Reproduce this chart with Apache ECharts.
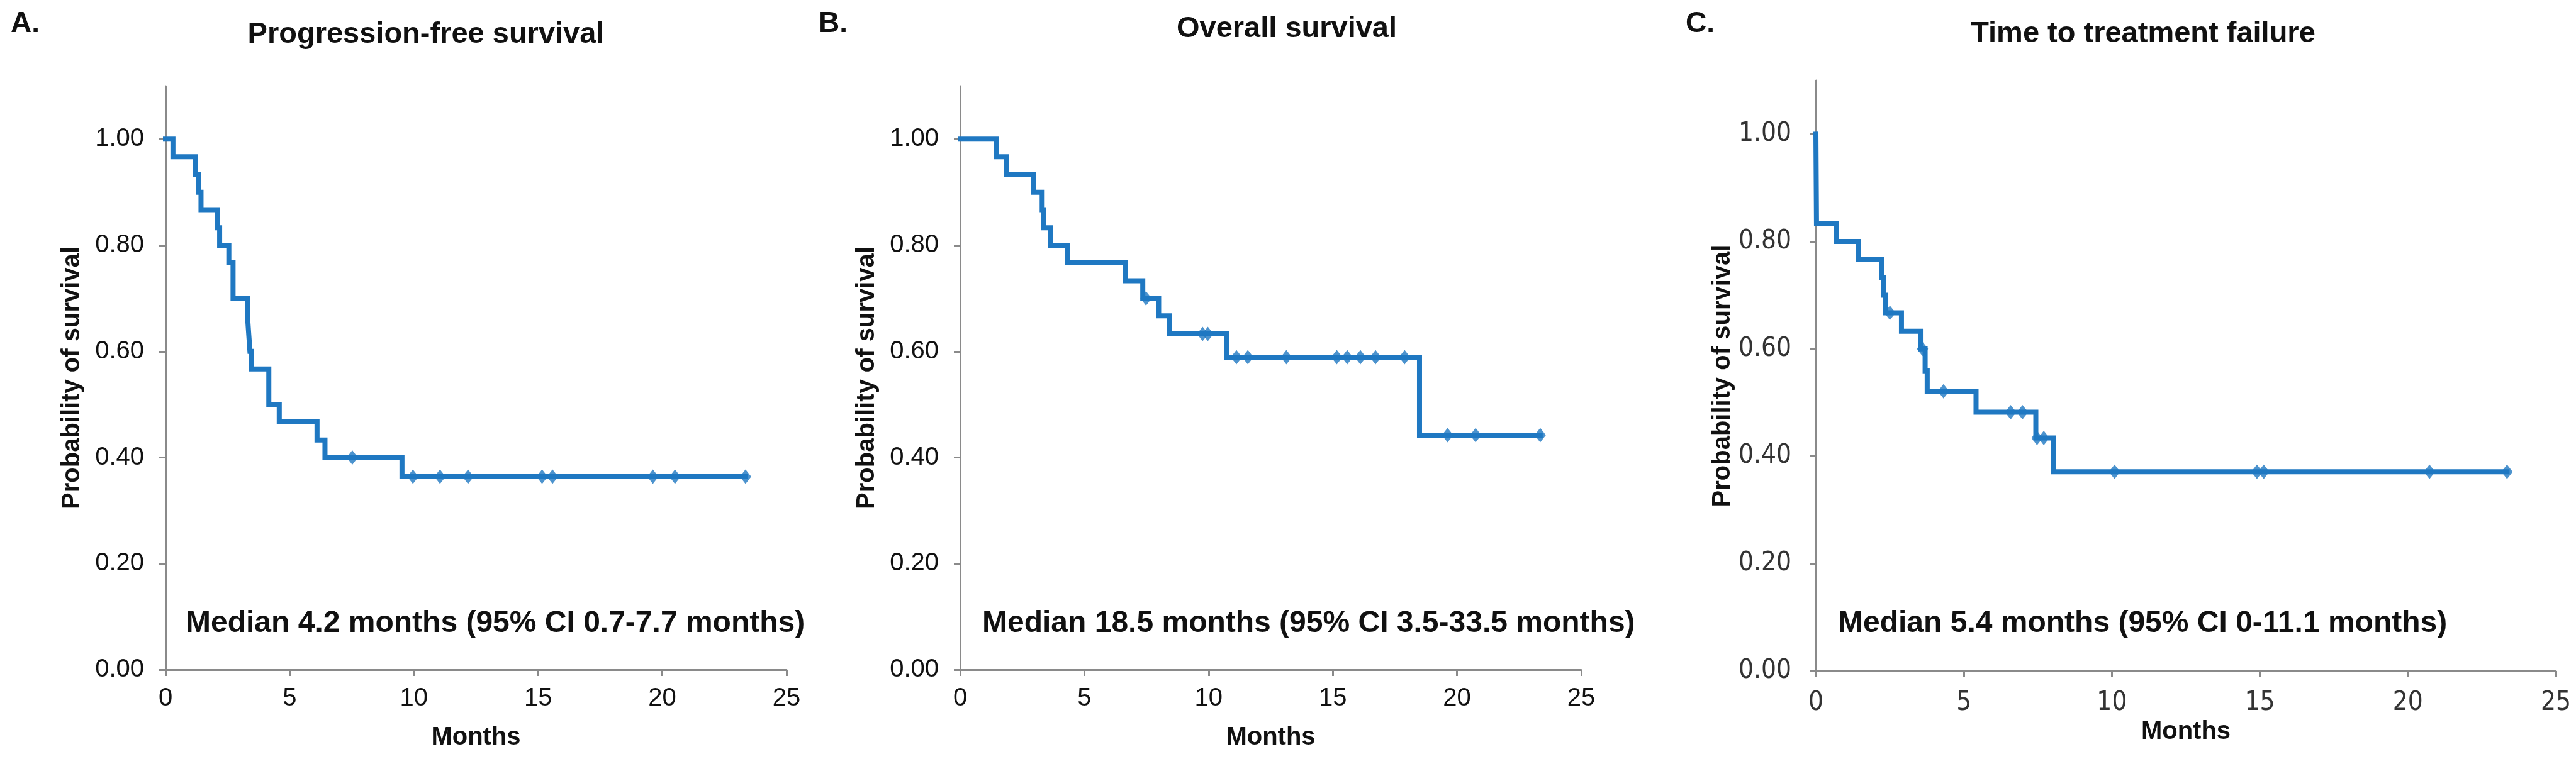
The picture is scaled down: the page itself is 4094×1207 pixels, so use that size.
<!DOCTYPE html>
<html>
<head>
<meta charset="utf-8">
<script src="https://cdn.jsdelivr.net/npm/echarts@6/dist/echarts.min.js"></script>
<style>
html,body{margin:0;padding:0;background:#fff;}
#chart{width:4094px;height:1207px;}
</style>
</head>
<body>
<div id="chart"></div>
<script>
// ---- Data ----
var panelLetters = ['A.', 'B.', 'C.'];
var panelTitles = ['Progression-free survival', 'Overall survival', 'Time to treatment failure'];
var medianTexts = [
  'Median 4.2 months (95% CI 0.7-7.7 months)',
  'Median 18.5 months (95% CI 3.5-33.5 months)',
  'Median 5.4 months (95% CI 0-11.1 months)'
];
var yTickValues = [0, 0.2, 0.4, 0.6, 0.8, 1.0];

// A. Progression-free survival: step times (months) and survival after each step
var pfsTimes = [0, 0.3, 1.2, 1.34, 1.43, 2.1, 2.18, 2.55, 2.72, 3.3, 3.35, 3.4, 3.46, 4.16, 4.58, 6.1, 6.42, 9.52, 23.35];
var pfsSurv  = [1.0, 0.967, 0.933, 0.90, 0.867, 0.833, 0.80, 0.767, 0.70, 0.667, 0.633, 0.60, 0.567, 0.50, 0.467, 0.433, 0.40, 0.364, 0.364];
var pfsCensor = [7.52, 9.96, 11.05, 12.18, 15.16, 15.58, 19.62, 20.51, 23.35];

// B. Overall survival
var osTimes = [0, 1.45, 1.86, 2.96, 3.30, 3.36, 3.63, 4.31, 6.64, 7.35, 7.99, 8.41, 10.73, 18.49, 23.35];
var osSurv  = [1.0, 0.967, 0.933, 0.90, 0.867, 0.833, 0.80, 0.767, 0.733, 0.70, 0.667, 0.633, 0.589, 0.442, 0.442];
var osCensor = [7.48, 9.76, 9.97, 11.12, 11.58, 13.13, 15.16, 15.58, 16.11, 16.72, 17.89, 19.62, 20.75, 23.35];

// C. Time to treatment failure
var ttfTimes = [0, 0.02, 0.69, 1.44, 2.22, 2.29, 2.36, 2.89, 3.53, 3.69, 3.76, 5.41, 7.43, 8.03, 23.35];
var ttfSurv  = [1.0, 0.833, 0.80, 0.767, 0.733, 0.70, 0.667, 0.633, 0.60, 0.559, 0.521, 0.482, 0.434, 0.371, 0.371];
var ttfCensor = [2.50, 3.60, 4.31, 6.58, 6.98, 7.47, 7.70, 10.09, 14.90, 15.13, 20.73, 23.35];

// ---- Helpers ----
function stepPoints(times, surv) {
  return times.map(function (t, i) { return [t, surv[i]]; });
}
function survAt(times, surv, t) {
  var s = surv[0];
  for (var i = 0; i < times.length; i++) { if (times[i] <= t) s = surv[i]; }
  return s;
}
function censorPoints(times, surv, cens) {
  return cens.map(function (t) { return [t, survAt(times, surv, t)]; });
}

var LINE = '#1f78c2';
var AXIS = '#8a8a8a';
var FONT = '"Liberation Sans", Arial, Helvetica, sans-serif';
var FONT_C = '"Liberation Sans Narrow", "DejaVu Sans Condensed", "Liberation Sans", sans-serif';

var grids = [
  {left: 263, top: 137, width: 987, height: 928},
  {left: 1526, top: 137, width: 987, height: 928},
  {left: 2886, top: 128, width: 1176, height: 939}
];
var nameGapsX = [88, 88, 50];
var xLabelMargins = [26, 26, 30];
var yLabelMargins = [34, 34, 39];
var tickFonts = [FONT, FONT, FONT_C];
var tickSizes = [40, 40, 42];
var tickColors = ['#111', '#111', '#333'];

var xAxes = [], yAxes = [], series = [];
var curves = [[pfsTimes, pfsSurv, pfsCensor], [osTimes, osSurv, osCensor], [ttfTimes, ttfSurv, ttfCensor]];

for (var k = 0; k < 3; k++) {
  xAxes.push({
    type: 'value', gridIndex: k, min: 0, max: 25, interval: 5,
    name: 'Months', nameLocation: 'middle', nameGap: nameGapsX[k],
    nameTextStyle: {fontFamily: FONT, fontWeight: 'bold', fontSize: 40, color: '#111'},
    axisLine: {show: true, onZero: false, lineStyle: {color: AXIS, width: 3}},
    axisTick: {show: true, length: 10, lineStyle: {color: AXIS, width: 3}},
    axisLabel: {fontFamily: tickFonts[k], fontSize: tickSizes[k], color: tickColors[k], margin: xLabelMargins[k]},
    splitLine: {show: false}
  });
  yAxes.push({
    type: 'value', gridIndex: k, min: 0, max: 1.1,
    name: 'Probability of survival', nameLocation: 'middle', nameGap: 128, nameRotate: 90,
    nameTextStyle: {fontFamily: FONT, fontWeight: 'bold', fontSize: 40, color: '#111'},
    axisLine: {show: true, onZero: false, lineStyle: {color: AXIS, width: 3}},
    axisTick: {show: true, length: 10, lineStyle: {color: AXIS, width: 3}, customValues: yTickValues},
    axisLabel: {fontFamily: tickFonts[k], fontSize: tickSizes[k], color: tickColors[k], margin: yLabelMargins[k],
      customValues: yTickValues,
      formatter: function (v) { return v > 1.0001 ? '' : v.toFixed(2); }},
    splitLine: {show: false}
  });
  var c = curves[k];
  series.push({
    type: 'line', xAxisIndex: k, yAxisIndex: k, step: 'end',
    data: stepPoints(c[0], c[1]), showSymbol: false, symbol: 'none',
    lineStyle: {color: LINE, width: 8, cap: 'square', join: 'miter'},
    animation: false, z: 2
  });
  series.push({
    type: 'scatter', xAxisIndex: k, yAxisIndex: k,
    data: censorPoints(c[0], c[1], c[2]), symbol: 'diamond', symbolSize: [18, 23],
    itemStyle: {color: LINE}, animation: false, z: 3
  });
}

var letterPos = [[17, 38], [1301, 38], [2679, 38]];
var titleCenters = [[677, 55], [2045, 46], [3406, 54]];
var medianPos = [[295, 992], [1561, 992], [2921, 992]];
var graphics = [];
for (var j = 0; j < 3; j++) {
  graphics.push({type: 'text', x: letterPos[j][0], y: letterPos[j][1],
    style: {text: panelLetters[j], font: 'bold 46px ' + FONT, fill: '#111', textAlign: 'left', textVerticalAlign: 'middle'}});
  graphics.push({type: 'text', x: titleCenters[j][0], y: titleCenters[j][1],
    style: {text: panelTitles[j], font: 'bold 47px ' + FONT, fill: '#111', textAlign: 'center', textVerticalAlign: 'middle'}});
  graphics.push({type: 'text', x: medianPos[j][0], y: medianPos[j][1],
    style: {text: medianTexts[j], font: 'bold 48px ' + FONT, fill: '#111', textAlign: 'left', textVerticalAlign: 'middle'}});
}

var chart = echarts.init(document.getElementById('chart'), null, {renderer: 'canvas'});
chart.setOption({
  backgroundColor: '#fff',
  animation: false,
  grid: grids.map(function (g) { return Object.assign({containLabel: false, outerBoundsMode: 'none'}, g); }),
  xAxis: xAxes,
  yAxis: yAxes,
  series: series,
  graphic: graphics
});
</script>
</body>
</html>
